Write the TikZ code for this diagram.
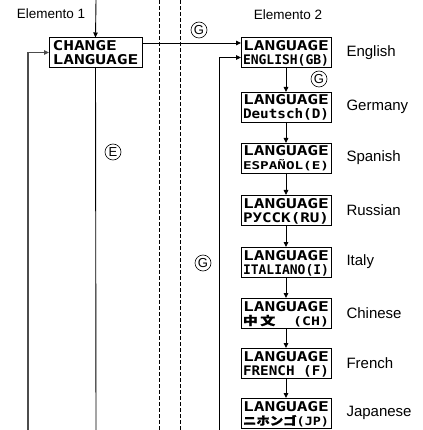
\documentclass[tikz,border=0pt]{standalone}
\usepackage{fontspec}
\usepackage{graphicx}
\setmainfont{Liberation Sans}
\newfontfamily\lcdfont{DejaVu Sans Mono}
\newfontfamily\cjkfont{Noto Sans CJK JP}[FakeBold=1]
\usetikzlibrary{arrows.meta, positioning}
\newcommand{\lcdrow}[1]{\raisebox{0pt}[10pt][0pt]{\resizebox{86pt}{10pt}{\lcdfont\bfseries #1}}}
\newcommand{\lcd}[2]{\vbox to 27pt{\offinterlineskip\vss
  \hbox to 86pt{\lcdrow{#1}}\vskip 4pt\hbox to 86pt{\lcdrow{#2}}\vss}}
\tikzset{
  lcdbox/.style={rectangle, draw=black, fill=white, minimum width=90pt,
    minimum height=30pt, inner sep=1pt, outer sep=0pt, line width=0.8pt},
  langlabel/.style={font=\fontsize{15}{15}\selectfont, anchor=west},
  elemlabel/.style={font=\fontsize{13.5}{13.5}\selectfont},
  keymark/.style={circle, draw=black, line width=0.6pt, inner sep=0pt,
    minimum size=16pt, font=\fontsize{13}{13}\selectfont},
  arrow/.style={-{Triangle[length=5pt,width=4.5pt]}, line width=0.9pt, color=black},
  line/.style={line width=0.9pt, color=black},
  divider/.style={line width=1pt, dash pattern=on 4pt off 2pt}
}
\begin{document}
\begin{tikzpicture}[x=1pt, y=-1pt, node distance=12pt]
  \useasboundingbox (0,0) rectangle (422,430);

  % Element headings
  \node[elemlabel] (elem1) at (51,14) {Elemento 1};
  \node[elemlabel] (elem2) at (288,15) {Elemento 2};

  % Dividers
  \coordinate (divAtop) at (159,0);
  \coordinate (divAbot) at (159,430);
  \coordinate (divBtop) at (180,0);
  \coordinate (divBbot) at (180,430);
  \draw[divider] (divAtop) -- (divAbot);
  \draw[divider] (divBtop) -- (divBbot);

  % Element 1
  \node[lcdbox, minimum width=93pt] (chg) at (95.5,52.5) {\lcd{CHANGE\ \ }{LANGUAGE}};

  % Element 2: language list
  \node[lcdbox] (eng) at (286,52.5) {\lcd{LANGUAGE}{ENGLISH(GB)}};
  \node[lcdbox] (ger) at (286,107) {\lcd{LANGUAGE}{Deutsch(D)}};
  \node[lcdbox] (spa) at (286,158) {\lcd{LANGUAGE}{ESPAÑOL(E)}};
  \node[lcdbox] (rus) at (286,210) {\lcd{LANGUAGE}{РУССК(RU)}};
  \node[lcdbox] (ita) at (286,262) {\lcd{LANGUAGE}{ITALIANO(I)}};
  \node[lcdbox] (chi) at (286,313) {\lcd{LANGUAGE}{{\cjkfont 中\,文}\ \ (CH)}};
  \node[lcdbox] (fre) at (286,363) {\lcd{LANGUAGE}{FRENCH (F)}};
  \node[lcdbox] (jap) at (286,413) {\lcd{LANGUAGE}{{\cjkfont ニホンゴ}(JP)}};

  % Language names
  \node[langlabel, right=of eng] (engname) {English};
  \node[langlabel, right=of ger] (gername) {Germany};
  \node[langlabel, right=of spa] (spaname) {Spanish};
  \node[langlabel, right=of rus] (rusname) {Russian};
  \node[langlabel, right=of ita] (itaname) {Italy};
  \node[langlabel, right=of chi] (chiname) {Chinese};
  \node[langlabel, right=of fre] (frename) {French};
  \node[langlabel, right=of jap] (japname) {Japanese};

  % Key marks
  \node[keymark] (keyG1) at (199,30) {G};
  \node[keymark] (keyG2) at (319,79) {G};
  \node[keymark] (keyE) at (113,152) {E};
  \node[keymark] (keyG3) at (203,263) {G};

  % Loose ends
  \coordinate (enter1) at (96,0);
  \coordinate (exit1) at (96,430);
  \coordinate (back1) at (28,430);
  \coordinate (back2) at (219,430);

  % Arrows
  \draw[arrow] (enter1) -- (chg.north);
  \draw[arrow] ([yshift=9.5pt]chg.east) -- ([yshift=9.5pt]eng.west);
  \draw[line] (chg.south) -- (exit1);
  \draw[arrow, color=black!70, line width=1.5pt] (back1) |- (chg.west);
  \draw[arrow] (back2) |- ([yshift=-5pt]eng.west);
  \draw[arrow] (eng) -- (ger);
  \draw[arrow] (ger) -- (spa);
  \draw[arrow] (spa) -- (rus);
  \draw[arrow] (rus) -- (ita);
  \draw[arrow] (ita) -- (chi);
  \draw[arrow] (chi) -- (fre);
  \draw[arrow] (fre) -- (jap);
\end{tikzpicture}
\end{document}
